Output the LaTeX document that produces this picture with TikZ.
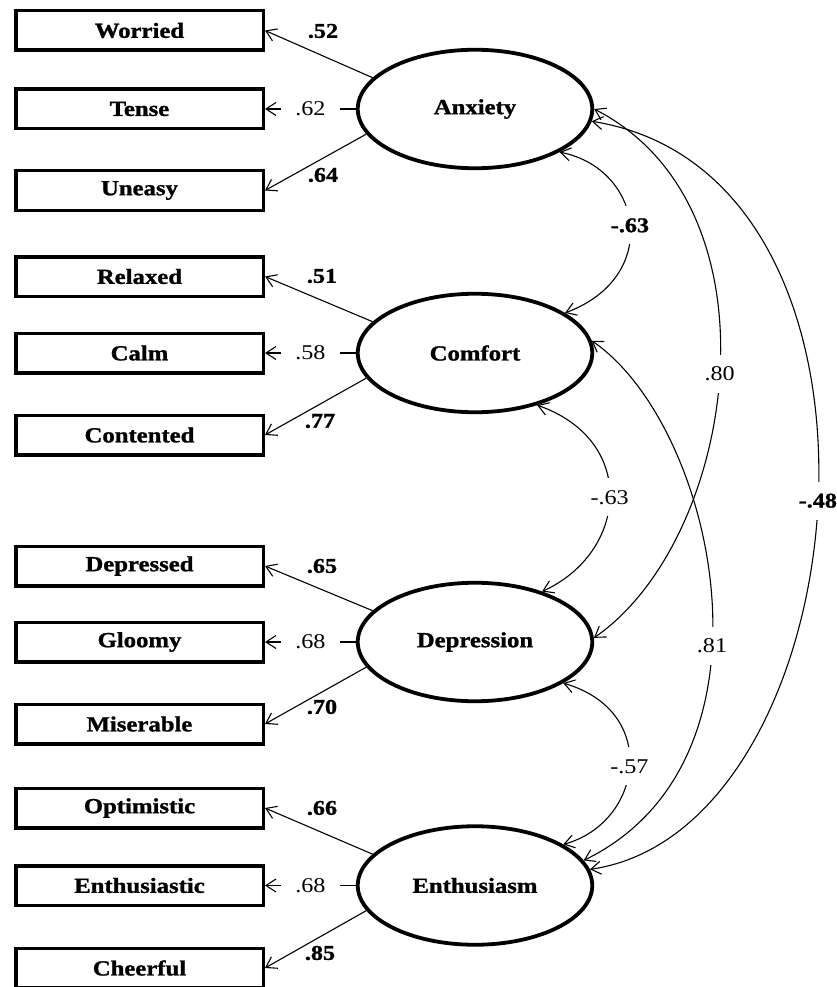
\documentclass[tikz,border=0pt]{standalone}
\usepackage{fontspec}
\setmainfont{Liberation Serif}[FakeStretch=1.15,BoldFeatures={FakeBold=1.2}]
\usetikzlibrary{arrows.meta,shapes.geometric}

\begin{document}
\begin{tikzpicture}[x=1pt,y=-1pt,
  item/.style={draw,line width=3.5pt,minimum width=247.5pt,minimum height=39.5pt,
    inner sep=0pt,font=\fontsize{21.5}{24}\selectfont\bfseries},
  factor/.style={draw,ellipse,line width=3.8pt,minimum width=234.5pt,minimum height=118.5pt,
    inner sep=0pt,font=\fontsize{21.5}{24}\selectfont\bfseries},
  load/.style={line width=1.1pt,-{Straight Barb[length=10pt,width=13pt]}},
  cov/.style={line width=1.1pt,{Straight Barb[length=10pt,width=13pt]}-{Straight Barb[length=10pt,width=13pt]}},
  lab/.style={font=\fontsize{21}{24}\selectfont\bfseries,inner sep=0pt},
  labr/.style={font=\fontsize{21}{24}\selectfont,inner sep=0pt},
  gap/.style={fill=white,inner xsep=14pt,inner ysep=2pt},
  cgap/.style={fill=white,inner xsep=3pt,inner ysep=12pt}
]
\useasboundingbox[fill=white] (0,0) rectangle (837,987);

% observed indicators
\node[item] (wor) at (139.5,30.5) {Worried};
\node[item] (ten) at (139.5,109) {Tense};
\node[item] (une) at (139.5,190.5) {Uneasy};
\node[item] (rel) at (139.5,276.5) {Relaxed};
\node[item] (cal) at (139.5,353) {Calm};
\node[item] (con) at (139.5,435) {Contented};
\node[item] (dpr) at (139.5,566) {Depressed};
\node[item] (glo) at (139.5,642) {Gloomy};
\node[item] (mis) at (139.5,724) {Miserable};
\node[item] (opt) at (139.5,808) {Optimistic};
\node[item] (ens) at (139.5,885.5) {Enthusiastic};
\node[item] (che) at (139.5,968) {Cheerful};

% latent factors
\node[factor] (anx) at (475,109) {Anxiety};
\node[factor] (com) at (475,353) {Comfort};
\node[factor] (dep) at (475,642) {Depression};
\node[factor] (ent) at (475,885.5) {Enthusiasm};

% factor loadings
\draw[load] (anx.163) -- (wor.east);
\draw[load] (anx.west) -- node[labr,gap] (l62) {.62} (ten.east);
\draw[load] (anx.193) -- (une.east);
\node[lab] (l52) at (323,31) {.52};
\node[lab] (l64) at (323,175) {.64};

\draw[load] (com.163) -- (rel.east);
\draw[load] (com.west) -- node[labr,gap] (l58) {.58} (cal.east);
\draw[load] (com.193) -- (con.east);
\node[lab] (l51) at (322,276) {.51};
\node[lab] (l77) at (320,421) {.77};

\draw[load] (dep.163) -- (dpr.east);
\draw[load] (dep.west) -- node[labr,gap] (l68a) {.68} (glo.east);
\draw[load] (dep.193) -- (mis.east);
\node[lab] (l65) at (322,566) {.65};
\node[lab] (l70) at (322,707) {.70};

\draw[load] (ent.163) -- (opt.east);
\draw[load] (ent.west) -- node[labr,gap] (l68b) {.68} (ens.east);
\draw[load] (ent.193) -- (che.east);
\node[lab] (l66) at (322,808) {.66};
\node[lab] (l85) at (320,953) {.85};

% factor correlations
\draw[cov] (anx.-27) .. controls (643.5,169) and (661.5,277) .. node[lab,cgap] (c1) {-.63} (com.24);
\draw[cov] (anx.0) .. controls (787,208) and (736,540) .. node[labr,cgap] (c2) {.80} (dep.2);
\draw[cov] (anx.-6) .. controls (925,175) and (862,830) .. node[lab,cgap] (c3) {-.48} (ent.8);
\draw[cov] (com.-40) .. controls (639,441) and (627,553) .. node[labr,cgap] (c4) {-.63} (dep.37);
\draw[cov] (com.6) .. controls (715,425) and (790,760) .. node[pos=.58,labr,cgap] (c5) {.81} (ent.13);
\draw[cov] (dep.-25) .. controls (661,711.5) and (642,823) .. node[labr,cgap] (c6) {-.57} (ent.25);
\end{tikzpicture}
\end{document}
